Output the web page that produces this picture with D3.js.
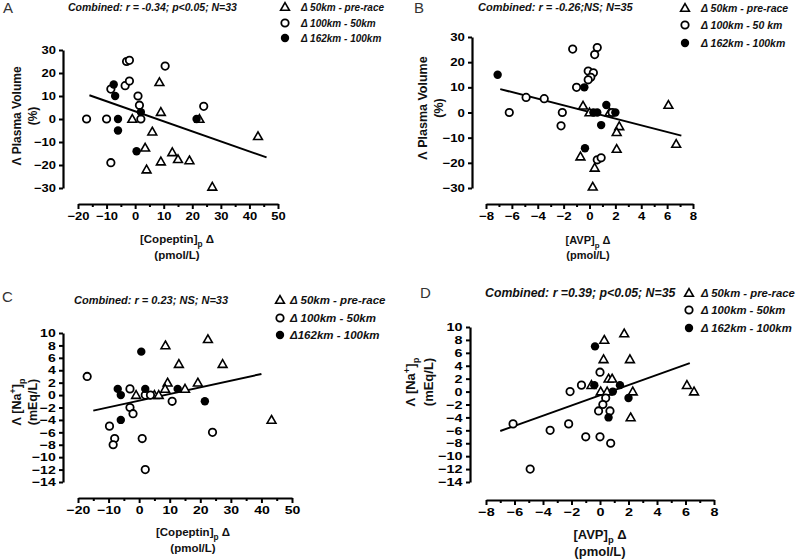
<!DOCTYPE html>
<html>
<head>
<meta charset="utf-8">
<script src="https://cdn.jsdelivr.net/npm/d3@7"></script>
<style>
  body { margin: 0; background: #fff; }
  svg { display: block; font-family: "Liberation Sans", Arial, sans-serif; }
</style>
</head>
<body>
<svg id="chart" width="800" height="560"></svg>
<script>
// ---------- DATA ----------
// Panel A: ΔPlasma Volume (%) vs [Copeptin]p Δ (pmol/L)
const aTri = [[-1,0],[8.5,16],[9,3],[22.5,0],[6,-5.5],[3.5,-12.5],[4,-22],[9,-18.5],[13,-14.5],[15,-17.5],[19,-18],[27,-29.5],[43,-7.5]];
const aOpen = [[-17,0],[-10,0],[-8.5,13],[-8.5,-19],[-3,25],[-2,25.5],[-3.5,14.5],[-2,16.5],[1,10],[1.5,6],[2,0],[10.5,23],[24,5.5]];
const aFilled = [[-7.5,15],[-7,10],[-6,0],[-6,-5],[2,3],[0.5,-14],[21.5,0]];
const aLine = [[-16,10.3],[46,-16.7]];

// Panel B: ΔPlasma Volume (%) vs [AVP]p Δ (pmol/L)
const bTri = [[-0.5,2.7],[0,0],[1.55,0],[2.3,-5.5],[2.1,-7.8],[2.1,-14.5],[-0.7,-17.5],[0.4,-22],[0.25,-29.5],[6.1,3],[6.7,-12.5]];
const bOpen = [[-1.3,25.2],[0.6,25.8],[0.4,23],[-0.1,16.5],[0.3,15.8],[0.1,14],[-0.1,13],[-1,10],[-6.2,0],[-4.9,6],[-3.5,5.5],[-2.1,0],[-2.2,-5.3],[1.75,0],[0.6,-18.8],[0.9,-18]];
const bFilled = [[-7.1,15],[-0.4,10],[1.3,3],[0.3,0],[0.6,0],[2.0,0],[0.9,-5],[-0.35,-14.2]];
const bLine = [[-6.9,9.3],[7.1,-9.2]];

// Panel C: Δ[Na+]p (mEq/L) vs [Copeptin]p Δ (pmol/L)
const cTri = [[8.6,8],[22.5,9],[13,5],[27.3,5],[9.3,2],[19.2,2],[8.5,1],[15,1],[-1,0],[5,0],[6.4,0],[43.3,-4]];
const cOpen = [[-17,3],[-3,1],[2,0],[3.7,0],[-3,-2],[-2,-3],[-9.7,-5],[-8,-7],[-8.5,-8],[1,-7],[2,-12],[10.8,-1],[24,-6]];
const cFilled = [[0.7,7],[-7,1],[-6,0],[2,1],[-6,-4],[12.6,1],[21.5,-1]];
const cLine = [[-15,-2.5],[40,3.4]];

// Panel D: Δ[Na+]p (mEq/L) vs [AVP]p Δ (pmol/L)
const dTri = [[1.7,9],[0.3,8],[0.25,5],[2.1,5],[0.6,2],[0.85,2],[-0.6,1],[0.05,0],[0.5,0],[2.3,0],[2.15,-4],[6.1,1],[6.6,0]];
const dOpen = [[-6.1,-5],[-4.9,-12],[-3.5,-6],[-2.2,-5],[-2.1,0],[-1.3,1],[-1,-7],[0,-7],[0.75,-8],[0,3],[0.4,-1],[0.2,-2],[-0.1,-3],[0.7,-3]];
const dFilled = [[-0.35,7],[-0.4,1],[1.4,1],[0.9,0],[2,-1],[0.6,-4]];
const dLine = [[-7,-6.1],[6.3,4.4]];

// Tick values
const copeptinTicks = [-20,-10,0,10,20,30,40,50];
const copeptinMinor = [-15,-5,5,15,25,35,45];
const avpTicks = [-8,-6,-4,-2,0,2,4,6,8];
const avpMinor = [-7,-5,-3,-1,1,3,5,7];
const pvTicks = [-30,-20,-10,0,10,20,30];
const naTicks = [-14,-12,-10,-8,-6,-4,-2,0,2,4,6,8,10];

// Text
const titles = ["Combined: r = -0.34; p<0.05; N=33", "Combined: r = -0.26;NS; N=35", "Combined: r = 0.23; NS; N=33", "Combined: r =0.39; p<0.05; N=35"];
const legendA = ["Δ 50km - pre-race", "Δ 100km - 50km", "Δ 162km - 100km"];
const legendB = ["Δ 50km - pre-race", "Δ 100km - 50 km", "Δ 162km - 100km"];
const legendC = ["Δ 50km - pre-race", "Δ 100km - 50km", "Δ162km - 100km"];
const legendD = ["Δ 50km - pre-race", "Δ 100km - 50km", "Δ 162km - 100km"];
const letters = ["A", "B", "C", "D"];

// ---------- DRAW ----------
const svg = d3.select("#chart");

function drawMarker(g, type, x, y) {
  if (type === "tri") {
    const s = 4.4;
    g.append("path")
      .attr("d", `M${x},${y - s}L${x + s},${y + s * 0.75}L${x - s},${y + s * 0.75}Z`)
      .attr("fill", "#fff").attr("stroke", "#000").attr("stroke-width", 1.6);
  } else if (type === "open") {
    g.append("circle").attr("cx", x).attr("cy", y).attr("r", 3.7)
      .attr("fill", "#fff").attr("stroke", "#000").attr("stroke-width", 1.8);
  } else {
    g.append("circle").attr("cx", x).attr("cy", y).attr("r", 4.2)
      .attr("fill", "#000");
  }
}

function panel(cfg) {
  const g = svg.append("g");
  const x = d3.scaleLinear().domain(cfg.xDom).range(cfg.xRange);
  const y = d3.scaleLinear().domain(cfg.yDom).range(cfg.yRange);

  // y axis
  g.append("g").attr("transform", `translate(${cfg.yAxisX},0)`)
    .call(d3.axisLeft(y).tickValues(cfg.yTicks).tickSize(4).tickSizeOuter(0).tickPadding(2).tickFormat(d3.format("d")));
  // x axis
  g.append("g").attr("transform", `translate(0,${cfg.xAxisY})`)
    .call(d3.axisBottom(x).tickValues(cfg.xTicks).tickSize(5).tickSizeOuter(0).tickPadding(3).tickFormat(d3.format("d")));
  g.append("g").attr("transform", `translate(0,${cfg.xAxisY})`)
    .call(d3.axisBottom(x).tickValues(cfg.xMinor).tickSize(3).tickSizeOuter(0).tickFormat(""))
    .select(".domain").remove();
  g.selectAll(".domain").attr("stroke-width", 2.2).attr("stroke", "#000");
  g.selectAll(".tick line").attr("stroke-width", 2).attr("stroke", "#000");
  g.selectAll(".tick text").attr("font-size", cfg.tickSize).attr("font-weight", "bold")
    .attr("fill", "#000").attr("font-family", "Liberation Sans, Arial, sans-serif")
    .attr("transform", `scale(${cfg.tickSX},1)`);

  // regression line
  g.append("line")
    .attr("x1", x(cfg.line[0][0])).attr("y1", y(cfg.line[0][1]))
    .attr("x2", x(cfg.line[1][0])).attr("y2", y(cfg.line[1][1]))
    .attr("stroke", "#000").attr("stroke-width", 2);

  // points
  cfg.tri.forEach(d => drawMarker(g, "tri", x(d[0]), y(d[1])));
  cfg.open.forEach(d => drawMarker(g, "open", x(d[0]), y(d[1])));
  cfg.filled.forEach(d => drawMarker(g, "filled", x(d[0]), y(d[1])));

  // panel letter
  svg.append("text").attr("x", cfg.letterPos[0]).attr("y", cfg.letterPos[1])
    .attr("font-size", 15).attr("fill", "#333").text(cfg.letter);

  // title
  svg.append("text").attr("x", cfg.titlePos[0]).attr("y", cfg.titlePos[1])
    .attr("font-size", cfg.titleSize).attr("font-weight", "bold").attr("font-style", "italic")
    .attr("fill", "#111").text(cfg.title);

  // legend
  const types = ["tri", "open", "filled"];
  cfg.legend.forEach((t, i) => {
    drawMarker(svg, types[i], cfg.legX, cfg.legY[i]);
    svg.append("text").attr("x", cfg.legTextX).attr("y", cfg.legY[i] + cfg.legSize * 0.36)
      .attr("font-size", cfg.legSize).attr("font-weight", "bold").attr("font-style", "italic")
      .attr("fill", "#111").text(t);
  });

  // x label
  const xl = svg.append("text").attr("x", cfg.xLabelPos[0]).attr("y", cfg.xLabelPos[1])
    .attr("text-anchor", "middle").attr("font-size", cfg.xLabSize).attr("font-weight", "bold").attr("fill", "#111");
  xl.append("tspan").text(cfg.xName);
  xl.append("tspan").attr("font-size", cfg.xLabSize * 0.72).attr("dy", 4).text("p");
  xl.append("tspan").attr("dy", -4).text(" Δ");
  svg.append("text").attr("x", cfg.xLabelPos[0]).attr("y", cfg.xLabelPos[1] + cfg.xLabSize + 4)
    .attr("text-anchor", "middle").attr("font-size", cfg.xLabSize).attr("font-weight", "bold").attr("fill", "#111")
    .text("(pmol/L)");

  // y label
  const yl = svg.append("text")
    .attr("transform", `translate(${cfg.yLabelX[0]},${cfg.yLabelY}) rotate(-90)`)
    .attr("text-anchor", "middle").attr("font-size", cfg.yLabSize).attr("font-weight", "bold").attr("fill", "#111");
  if (cfg.na) {
    yl.append("tspan").text("Λ [Na");
    yl.append("tspan").attr("font-size", cfg.yLabSize * 0.72).attr("dy", -5).text("+");
    yl.append("tspan").attr("dy", 5).text("]");
    yl.append("tspan").attr("font-size", cfg.yLabSize * 0.72).attr("dy", 4).text("p");
  } else {
    yl.append("tspan").text("Λ Plasma Volume");
  }
  svg.append("text")
    .attr("transform", `translate(${cfg.yLabelX[1]},${cfg.yLabelY}) rotate(-90)`)
    .attr("text-anchor", "middle").attr("font-size", cfg.yLabSize).attr("font-weight", "bold").attr("fill", "#111")
    .text(cfg.yUnit);
}

panel({
  letter: letters[0], letterPos: [3, 13], title: titles[0], titlePos: [68, 11], titleSize: 10.5,
  xDom: [-20, 50], xRange: [78, 278], yDom: [-30, 30], yRange: [188, 50],
  yAxisX: 63, xAxisY: 204, xTicks: copeptinTicks, xMinor: copeptinMinor, yTicks: pvTicks,
  tickSize: 11, tickSX: 1.18,
  tri: aTri, open: aOpen, filled: aFilled, line: aLine,
  legend: legendA, legSize: 10, legX: 285, legTextX: 301, legY: [7, 23, 38],
  xName: "[Copeptin]", xLabelPos: [177, 243], xLabSize: 11.5,
  yLabelX: [21, 37], yLabelY: 116, yLabSize: 12, yUnit: "(%)", na: false
});
panel({
  letter: letters[1], letterPos: [414, 13], title: titles[1], titlePos: [478, 11], titleSize: 11,
  xDom: [-8, 8], xRange: [486, 693], yDom: [-30, 30], yRange: [188, 37],
  yAxisX: 472, xAxisY: 204, xTicks: avpTicks, xMinor: avpMinor, yTicks: pvTicks,
  tickSize: 11, tickSX: 1.2,
  tri: bTri, open: bOpen, filled: bFilled, line: bLine,
  legend: legendB, legSize: 10.5, legX: 685, legTextX: 701, legY: [8, 25, 43],
  xName: "[AVP]", xLabelPos: [588, 244], xLabSize: 11,
  yLabelX: [427, 443], yLabelY: 108, yLabSize: 12.5, yUnit: "(%)", na: false
});
panel({
  letter: letters[2], letterPos: [2, 302], title: titles[2], titlePos: [74, 304], titleSize: 11,
  xDom: [-20, 50], xRange: [78, 292], yDom: [-14, 10], yRange: [482, 333],
  yAxisX: 63, xAxisY: 498, xTicks: copeptinTicks, xMinor: copeptinMinor, yTicks: naTicks,
  tickSize: 11.5, tickSX: 1.22,
  tri: cTri, open: cOpen, filled: cFilled, line: cLine,
  legend: legendC, legSize: 11.5, legX: 280, legTextX: 290, legY: [300, 318, 335],
  xName: "[Copeptin]", xLabelPos: [193, 536], xLabSize: 11.5,
  yLabelX: [21, 37], yLabelY: 402, yLabSize: 12.5, yUnit: "(mEq/L)", na: true
});
panel({
  letter: letters[3], letterPos: [420, 298], title: titles[3], titlePos: [485, 297], titleSize: 12.3,
  xDom: [-8, 8], xRange: [486, 714], yDom: [-14, 10], yRange: [482, 327],
  yAxisX: 470, xAxisY: 500, xTicks: avpTicks, xMinor: avpMinor, yTicks: naTicks,
  tickSize: 11.5, tickSX: 1.25,
  tri: dTri, open: dOpen, filled: dFilled, line: dLine,
  legend: legendD, legSize: 11.3, legX: 689, legTextX: 701, legY: [293, 310, 328],
  xName: "[AVP]", xLabelPos: [600, 539], xLabSize: 13,
  yLabelX: [415, 433], yLabelY: 382, yLabSize: 13, yUnit: "(mEq/L)", na: true
});
</script>
</body>
</html>
